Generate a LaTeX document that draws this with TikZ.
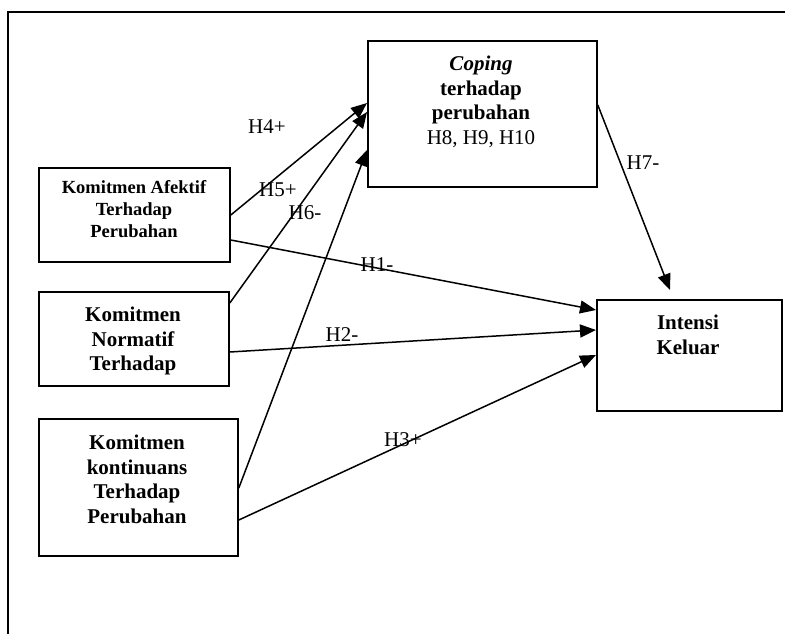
\documentclass[tikz,border=0pt]{standalone}
\usepackage{fontspec}
\setmainfont{Liberation Serif}
\usetikzlibrary{calc,arrows.meta}
\tikzset{
  box/.style={draw, line width=1.8pt, inner sep=0pt, anchor=north west},
  boxtext/.style={anchor=north, inner sep=0pt, align=center, font=\fontsize{21}{24.5}\selectfont\bfseries},
  smalltext/.style={anchor=north, inner sep=0pt, align=center, font=\fontsize{18.5}{22}\selectfont\bfseries},
  lab/.style={inner sep=0pt, font=\fontsize{21}{24}\selectfont},
  conn/.style={line width=1.5pt, -{Triangle[length=16pt,width=13pt]}},
  frame/.style={line width=2.2pt}
}
\begin{document}
\begin{tikzpicture}[x=1pt,y=-1pt]
\useasboundingbox (0,0) rectangle (785,634);
% outer frame (only left and top edges visible)
\coordinate (fb) at (8,640);
\coordinate (ftl) at (8,12);
\coordinate (ftr) at (790,12);
\draw[frame] (fb) -- (ftl) -- (ftr);

% boxes
\node[box, minimum width=229pt, minimum height=146pt] (cop) at (367,40) {};
\node[box, minimum width=191pt, minimum height=94pt] (aff) at (38,167) {};
\node[box, minimum width=190pt, minimum height=94pt] (nor) at (38,291) {};
\node[box, minimum width=199pt, minimum height=137pt] (kon) at (38,418) {};
\node[box, minimum width=185pt, minimum height=111pt] (int) at (596,299) {};

% box texts
\node[boxtext] (copt) at (481,56) {\textit{Coping}\\ terhadap\\ perubahan\\ \mdseries H8, H9, H10};
\node[smalltext] (afft) at (134,180) {Komitmen Afektif\\ Terhadap\\ Perubahan};
\node[boxtext] (nort) at (133,307) {Komitmen\\ Normatif\\ Terhadap};
\node[boxtext] (kont) at (137,435) {Komitmen\\ kontinuans\\ Terhadap\\ Perubahan};
\node[boxtext] (intt) at (688,315) {Intensi\\ Keluar};

% connectors
\draw[conn] ($(aff.north east)+(0,48)$) -- ($(cop.north west)+(0,63)$);
\draw[conn] ($(nor.north east)+(0,12)$) -- ($(cop.north west)+(0,72)$);
\draw[conn] ($(kon.north east)+(0,70)$) -- ($(cop.north west)+(0,110)$);
\draw[conn] ($(aff.north east)+(0,73)$) -- ($(int.north west)+(0,11)$);
\draw[conn] ($(nor.north east)+(0,61)$) -- ($(int.north west)+(0,31)$);
\draw[conn] ($(kon.north east)+(0,102)$) -- ($(int.north west)+(0,56)$);
\coordinate (h7end) at ($(int.north west)+(74,-9)$);
\draw[conn] ($(cop.north east)+(0,65)$) -- (h7end);

% labels
\node[lab] (l4) at (267,127) {H4+};
\node[lab] (l5) at (278,190) {H5+};
\node[lab] (l6) at (305,213) {H6-};
\node[lab] (l7) at (643,163) {H7-};
\node[lab] (l1) at (377,265) {H1-};
\node[lab] (l2) at (342,335) {H2-};
\node[lab] (l3) at (403,440) {H3+};
\end{tikzpicture}
\end{document}
